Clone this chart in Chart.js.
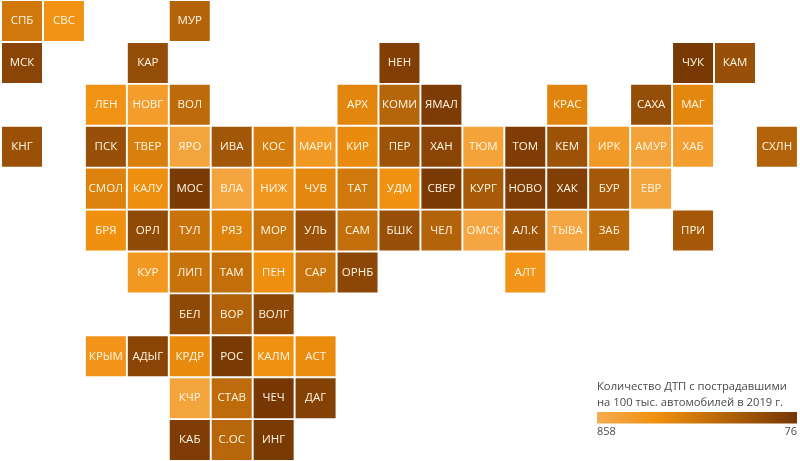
<!DOCTYPE html>
<html lang="ru">
<head>
  <meta charset="UTF-8">
  <title>Количество ДТП с пострадавшими</title>
  <script src="https://cdn.jsdelivr.net/npm/chart.js"></script>
  <style>
    html, body { margin: 0; padding: 0; background: #fff; }
    canvas { display: block; }
  </style>
</head>
<body>
  <canvas id="map" width="800" height="461"></canvas>

  <script>
    const regions = [
      'СПБ','СВС','МУР',
      'МСК','КАР','НЕН','ЧУК','КАМ',
      'ЛЕН','НОВГ','ВОЛ','АРХ','КОМИ','ЯМАЛ','КРАС','САХА','МАГ',
      'КНГ','ПСК','ТВЕР','ЯРО','ИВА','КОС','МАРИ','КИР','ПЕР','ХАН','ТЮМ','ТОМ','КЕМ','ИРК','АМУР','ХАБ','СХЛН',
      'СМОЛ','КАЛУ','МОС','ВЛА','НИЖ','ЧУВ','ТАТ','УДМ','СВЕР','КУРГ','НОВО','ХАК','БУР','ЕВР',
      'БРЯ','ОРЛ','ТУЛ','РЯЗ','МОР','УЛЬ','САМ','БШК','ЧЕЛ','ОМСК','АЛ.К','ТЫВА','ЗАБ','ПРИ',
      'КУР','ЛИП','ТАМ','ПЕН','САР','ОРНБ','АЛТ',
      'БЕЛ','ВОР','ВОЛГ',
      'КРЫМ','АДЫГ','КРДР','РОС','КАЛМ','АСТ',
      'КЧР','СТАВ','ЧЕЧ','ДАГ',
      'КАБ','С.ОС','ИНГ'
    ];
    const cols = [
      0,1,4,
      0,3,9,16,17,
      2,3,4,8,9,10,13,15,16,
      0,2,3,4,5,6,7,8,9,10,11,12,13,14,15,16,18,
      2,3,4,5,6,7,8,9,10,11,12,13,14,15,
      2,3,4,5,6,7,8,9,10,11,12,13,14,16,
      3,4,5,6,7,8,12,
      4,5,6,
      2,3,4,5,6,7,
      4,5,6,7,
      4,5,6
    ];
    const rows = [
      0,0,0,
      1,1,1,1,1,
      2,2,2,2,2,2,2,2,2,
      3,3,3,3,3,3,3,3,3,3,3,3,3,3,3,3,3,
      4,4,4,4,4,4,4,4,4,4,4,4,4,4,
      5,5,5,5,5,5,5,5,5,5,5,5,5,5,
      6,6,6,6,6,6,6,
      7,7,7,
      8,8,8,8,8,8,
      9,9,9,9,
      10,10,10
    ];
    // на глаз по цвету плитки
    const values = [
      480,640,350,
      170,220,130,90,230,
      640,730,390,560,360,110,550,220,570,
      240,230,520,790,270,500,700,590,250,170,780,120,250,710,780,740,350,
      540,620,100,800,680,570,480,630,100,300,110,130,290,790,
      625,200,440,540,450,240,420,230,350,810,260,810,380,290,
      690,440,420,620,450,180,660,
      190,340,180,
      660,170,590,100,630,600,
      790,400,85,140,
      120,370,100
    ];
    const legendTitle = ['Количество ДТП с пострадавшими', 'на 100 тыс. автомобилей в 2019 г.'];
    const scaleMax = 858;
    const scaleMin = 76;

    // светлый -> оранжевый -> тёмный
    const light = [246, 172, 80];
    const orange = [240, 144, 15];
    const dark = [117, 54, 4];
    const midStop = 0.3;

    function tileColor(v) {
      const t = (scaleMax - v) / (scaleMax - scaleMin);
      const from = t < midStop ? light : orange;
      const to = t < midStop ? orange : dark;
      const k = t < midStop ? t / midStop : (t - midStop) / (1 - midStop);
      const c = from.map((f, i) => Math.round(f + (to[i] - f) * k));
      return `rgb(${c[0]},${c[1]},${c[2]})`;
    }

    // подписи плиток
    const tileLabels = {
      id: 'tileLabels',
      afterDatasetsDraw(chart) {
        const { ctx, scales: { x, y } } = chart;
        ctx.save();
        ctx.font = '500 11.5px "Open Sans"';
        ctx.fillStyle = '#fff6e4';
        ctx.textAlign = 'center';
        ctx.textBaseline = 'middle';
        regions.forEach((r, i) => {
          ctx.fillText(r, x.getPixelForValue(cols[i]), y.getPixelForValue(rows[i]));
        });
        ctx.restore();
      }
    };

    // легенда внизу справа
    const gradientLegend = {
      id: 'gradientLegend',
      afterDraw(chart) {
        const ctx = chart.ctx;
        ctx.save();
        ctx.fillStyle = '#4a4a4a';
        ctx.font = '11.25px "Open Sans"';
        ctx.textBaseline = 'middle';
        ctx.textAlign = 'left';
        ctx.fillText(legendTitle[0], 597, 387);
        ctx.fillText(legendTitle[1], 597, 403);
        const g = ctx.createLinearGradient(597, 0, 797, 0);
        g.addColorStop(0, `rgb(${light})`);
        g.addColorStop(midStop, `rgb(${orange})`);
        g.addColorStop(1, `rgb(${dark})`);
        ctx.fillStyle = g;
        ctx.fillRect(597, 412, 200, 11.5);
        ctx.fillStyle = '#4a4a4a';
        ctx.font = '11px "Open Sans"';
        ctx.fillText(String(scaleMax), 597, 432);
        ctx.textAlign = 'right';
        ctx.fillText(String(scaleMin), 797, 432);
        ctx.restore();
      }
    };

    new Chart(document.getElementById('map'), {
      type: 'scatter',
      data: {
        labels: regions,
        datasets: [{
          data: values.map((v, i) => ({ x: cols[i], y: rows[i], v: v })),
          backgroundColor: values.map(tileColor),
          pointStyle: 'rect',
          pointRadius: 28.3,
          pointHoverRadius: 28.3,
          borderWidth: 0,
          clip: false
        }]
      },
      options: {
        responsive: false,
        animation: false,
        layout: { padding: 0, autoPadding: false },
        plugins: { legend: { display: false }, tooltip: { enabled: false } },
        events: [],
        scales: {
          x: { type: 'linear', display: false, min: -0.5246, max: 18.55 },
          y: { type: 'linear', display: false, reverse: true, min: -0.501, max: 10.5 }
        }
      },
      plugins: [tileLabels, gradientLegend]
    });
  </script>
</body>
</html>
